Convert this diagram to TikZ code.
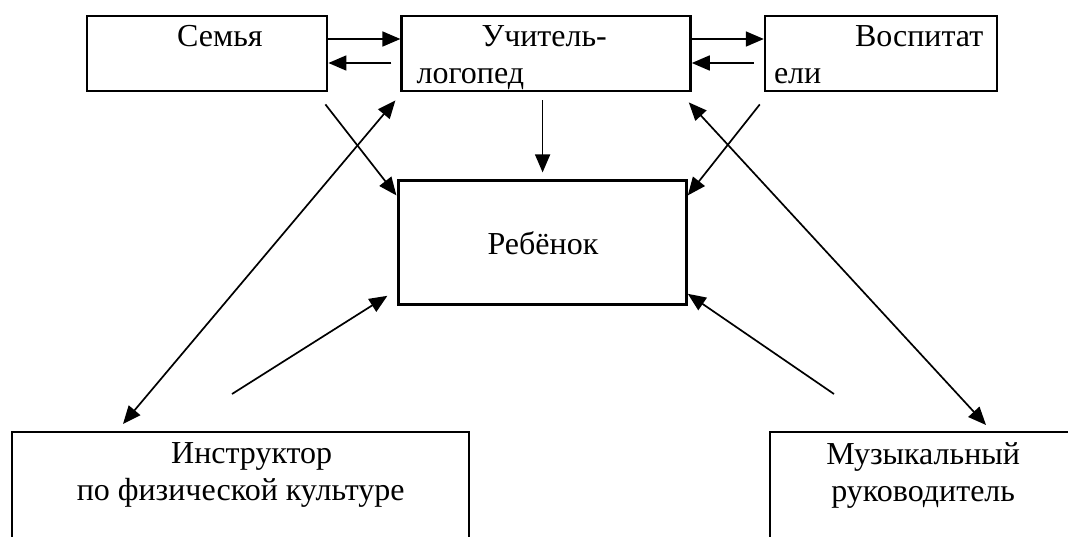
\documentclass[tikz,border=0pt]{standalone}
\usepackage{fontspec}
\setmainfont{Liberation Serif}
\usetikzlibrary{arrows.meta, positioning}
\tikzset{box/.style={draw, line width=2.4pt, inner sep=0pt, anchor=north west}}
\tikzset{link/.style={line width=1.7pt}}
% text of a box: width, height, first baseline, lines
\newcommand{\boxtext}[4]{\parbox[c][#2][t]{#1}{\rule{0pt}{#3}#4}}

\begin{document}
\begin{tikzpicture}[x=1pt, y=-1pt, >={Triangle[length=18pt,width=15pt]}, every node/.style={font=\fontsize{32}{37}\selectfont}]
\useasboundingbox (0,0) rectangle (1068,536);
\clip (0,0) rectangle (1068,536);
\node[box] (semya) at (86,15) {\boxtext{240pt}{75pt}{30pt}{\hspace*{90pt}Семья}};
\node[box, right=72pt of semya] (uchitel) {\boxtext{289pt}{75pt}{30pt}{\hspace*{80pt}Учитель-\\\hspace*{15pt}логопед}};
\node[box, right=72pt of uchitel] (vospit) {\boxtext{232pt}{75pt}{30pt}{\hspace*{90pt}Воспитат\\\hspace*{9pt}ели}};
\node[draw, line width=2.4pt, inner sep=0pt, below=87pt of uchitel, xshift=-3.5pt] (rebenok) {\boxtext{288pt}{124pt}{74pt}{\hspace*{89pt}Ребёнок}};
\node[box] (instr) at (11,431) {\boxtext{457pt}{120pt}{31pt}{\centering\hspace*{22pt}Инструктор\\по физической культуре}};
\node[box] (music) at (769,431) {\boxtext{306pt}{120pt}{32pt}{\centering Музыкальный\\руководитель}};
% top row
\draw[link, ->] ([yshift=-24pt]semya.north east) -- ([yshift=-24pt]uchitel.north west);
\draw[link, ->] ([xshift=-9pt, yshift=-48pt]uchitel.north west) -- ([yshift=-48pt]semya.north east);
\draw[link, ->] ([yshift=-24pt]uchitel.north east) -- ([yshift=-24pt]vospit.north west);
\draw[link, ->] ([xshift=-10pt, yshift=-48pt]vospit.north west) -- ([yshift=-48pt]uchitel.north east);
% to the child
\draw[link, ->] ([xshift=-3pt, yshift=-12pt]semya.south east) -- ([xshift=-1pt, yshift=-16pt]rebenok.north west);
\draw[link, ->] ([xshift=-3.5pt, yshift=-8pt]uchitel.south) -- ([yshift=7pt]rebenok.north);
\draw[link, ->] ([xshift=-4pt, yshift=-12pt]vospit.south west) -- ([yshift=-16pt]rebenok.north east);
\draw[link, ->] ([xshift=221pt, yshift=37pt]instr.north west) -- ([xshift=-10pt, yshift=10pt]rebenok.south west);
\draw[link, ->] ([xshift=65pt, yshift=37pt]music.north west) -- ([yshift=12pt]rebenok.south east);
% long links
\draw[link, <->] ([xshift=-5pt, yshift=-8pt]uchitel.south west) -- ([xshift=112pt, yshift=7pt]instr.north west);
\draw[link, <->] ([xshift=-3pt, yshift=-10pt]uchitel.south east) -- ([xshift=217pt, yshift=6pt]music.north west);
\end{tikzpicture}
\end{document}
